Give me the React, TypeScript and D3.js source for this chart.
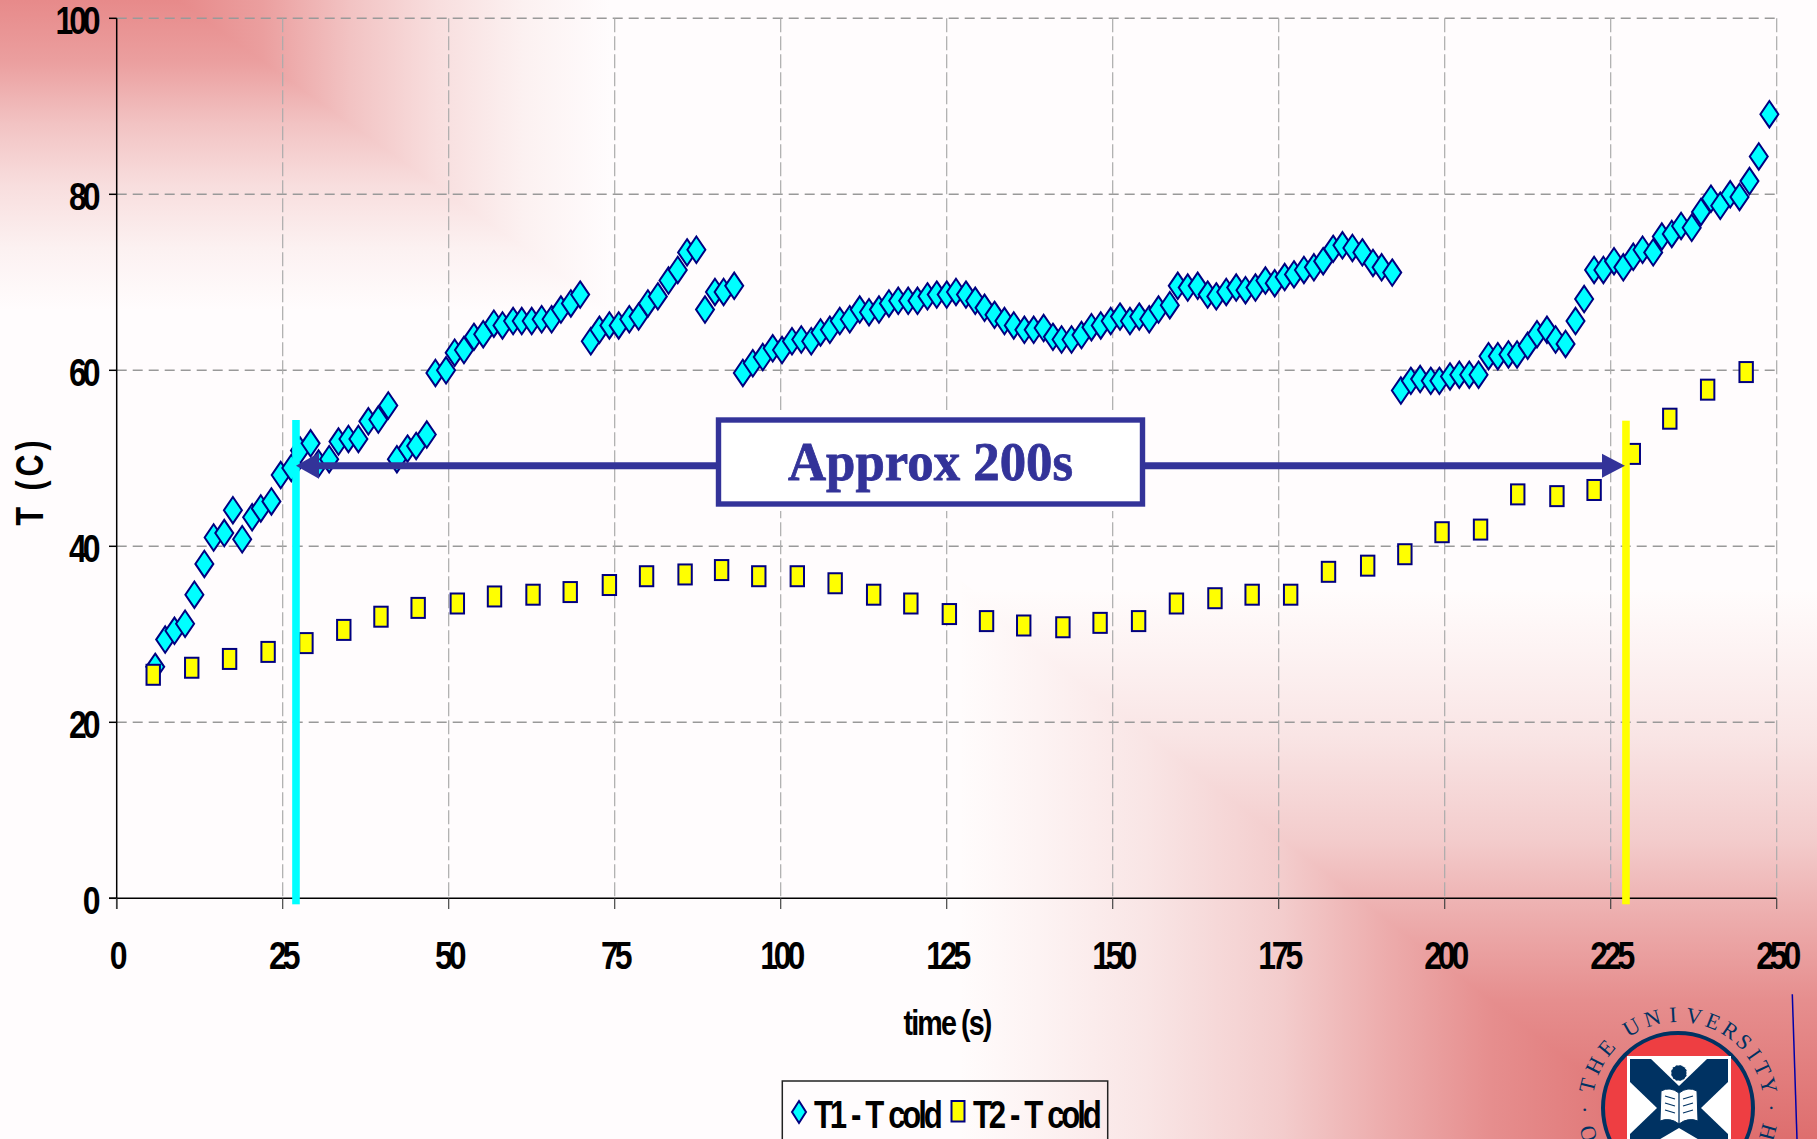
import React from "react";
import * as d3 from "d3";

const t1Time = [5.8,7.3,8.7,10.3,11.7,13.2,14.6,16.2,17.5,18.9,20.4,21.7,23.3,24.7,26.3,27.6,29.2,30.4,32.0,33.4,34.9,36.4,37.9,39.4,40.9,42.2,43.8,45.1,46.7,48.0,49.6,50.9,52.3,53.8,55.2,56.8,58.1,59.7,61.0,62.5,64.0,65.5,66.9,68.4,69.8,71.4,72.7,74.2,75.6,77.2,78.6,80.0,81.5,83.1,84.5,85.9,87.3,88.6,90.1,91.4,93.0,94.3,95.8,97.3,98.8,100.2,101.7,103.1,104.6,106.0,107.4,108.9,110.4,111.9,113.3,114.8,116.3,117.7,119.2,120.6,122.1,123.5,125.0,126.4,127.9,129.3,130.7,132.2,133.7,135.1,136.7,138.1,139.6,141.0,142.3,143.8,145.3,146.8,148.2,149.7,151.1,152.6,154.0,155.5,156.9,158.6,159.8,161.3,162.8,164.3,165.6,167.1,168.6,170.0,171.5,173.0,174.4,175.9,177.3,178.8,180.3,181.7,183.2,184.6,186.1,187.6,189.2,190.5,192.1,193.4,194.9,196.3,197.9,199.2,200.8,202.2,203.7,205.1,206.6,208.0,209.6,210.9,212.5,213.9,215.4,216.7,218.2,219.7,221.0,222.5,223.9,225.5,226.9,228.4,229.8,231.4,232.7,234.2,235.6,237.2,238.6,240.1,241.5,243.0,244.4,245.9,247.3,248.9];
const t1Values = [26.3,29.4,30.4,31.2,34.5,38.0,41.0,41.5,44.1,40.8,43.3,44.3,45.1,48.1,48.9,50.9,51.7,49.4,49.9,51.9,52.2,52.2,54.2,54.4,56.0,49.9,51.1,51.4,52.7,59.7,60.0,62.0,62.3,63.8,64.1,65.3,65.1,65.6,65.6,65.6,65.8,65.8,66.9,67.6,68.6,63.3,64.6,65.1,65.1,65.8,66.1,67.6,68.4,70.2,71.4,73.4,73.7,66.9,68.9,68.9,69.6,59.7,60.8,61.5,62.5,62.3,63.3,63.5,63.3,64.3,64.6,65.6,65.8,66.9,66.6,66.9,67.6,67.9,67.9,67.9,68.4,68.6,68.6,68.9,68.6,67.9,67.1,66.3,65.6,65.1,64.6,64.6,64.8,63.8,63.5,63.5,64.0,64.9,65.1,65.6,66.1,65.6,66.1,65.8,66.9,67.4,69.6,69.4,69.6,68.6,68.4,68.9,69.4,69.1,69.4,70.2,69.9,70.6,70.9,71.4,71.7,72.4,73.8,74.2,73.9,73.4,72.2,71.7,71.1,57.7,58.8,59.0,58.8,58.8,59.3,59.5,59.5,59.5,61.6,61.6,61.8,61.8,62.8,64.1,64.6,63.5,63.0,65.6,68.1,71.4,71.4,72.4,71.7,72.9,73.7,73.4,75.2,75.5,76.4,76.2,78.0,79.5,78.7,80.0,79.7,81.5,84.3,89.1];
const t2Time = [5.5,11.3,17.0,22.8,28.5,34.2,39.8,45.4,51.3,56.9,62.7,68.3,74.2,79.8,85.6,91.1,96.7,102.5,108.2,114.0,119.6,125.4,131.0,136.6,142.5,148.1,153.9,159.6,165.4,171.0,176.8,182.5,188.4,194.0,199.6,205.4,211.0,216.9,222.5,228.4,233.9,239.6,245.4];
const t2Values = [25.4,26.2,27.2,28.0,29.0,30.5,32.0,33.0,33.5,34.3,34.5,34.8,35.6,36.6,36.8,37.3,36.6,36.6,35.8,34.5,33.5,32.3,31.5,31.0,30.8,31.3,31.5,33.5,34.1,34.5,34.5,37.1,37.8,39.1,41.6,41.9,45.9,45.7,46.4,50.5,54.5,57.8,59.8];
const xTicks = [0,25,50,75,100,125,150,175,200,225,250];
const yTicks = [0,20,40,60,80,100];
const startTime = 27;
const endTime = 227.3;
const spanLabel = "Approx 200s";
const xTitle = "time (s)";
const yTitle = "T (C)";
const series1Name = "T1 - T cold";
const series2Name = "T2 - T cold";
const sealChars = ["O","·","T","H","E","U","N","I","V","E","R","S","I","T","Y","·","H"];
const sealAngles = [-106,-91,-76,-63,-50,-30,-16,-3,10,22,34,45,55,65,76,90,105];

const NAVY = "#000080";
const BLUE = "#333399";
const SEAL = "#003262";
const x = d3.scaleLinear().domain([0, 250]).range([116.7, 1776.7]);
const y = d3.scaleLinear().domain([0, 100]).range([898.3, 18.3]);

const diamond = (w: number, h: number) => `M0,${-h}L${w},0L0,${h}L${-w},0Z`;

function Squeezed({ px, py, size, ls, sx = 0.82, anchor = "start", ws = 0, children }: any) {
  return (
    <text
      transform={`translate(${px},${py}) scale(${sx},1)`}
      fontFamily="'Liberation Sans', Arial, sans-serif"
      fontWeight={700}
      fontSize={size}
      letterSpacing={ls}
      wordSpacing={ws}
      textAnchor={anchor}
      fill="#000"
    >
      {children}
    </text>
  );
}

function Seal() {
  const cx = 1678, cy = 1108;
  return (
    <g>
      {sealChars.map((c, i) => (
        <text key={i} transform={`translate(${cx},${cy}) rotate(${sealAngles[i]}) translate(0,-86)`} textAnchor="middle"
          fontFamily="'Liberation Serif', serif" fontSize={22} fill={SEAL}>{c}</text>
      ))}
      <circle cx={cx} cy={cy} r={75} fill="#EE3E42" stroke={SEAL} strokeWidth={4} />
      <rect x={1627} y={1056} width={104} height={120} fill="#fff" />
      <rect x={1630} y={1059} width={98} height={120} fill={SEAL} />
      <path d="M1651,1059L1707,1059L1679,1086Z" fill="#fff" />
      <path d="M1630,1082L1657,1108L1630,1134Z" fill="#fff" />
      <path d="M1728,1082L1701,1108L1728,1134Z" fill="#fff" />
      <path d="M1679,1128L1650,1145L1708,1145Z" fill="#fff" />
      <circle cx={1679} cy={1073} r={8} fill={SEAL} stroke="#fff" strokeWidth={1} strokeDasharray="2 2" />
      <path d="M1664,1059L1675,1066M1694,1059L1683,1066M1679,1059L1679,1065" stroke="#fff" strokeWidth={1.5} />
      <path d="M1661,1091Q1670,1086 1679,1093Q1688,1086 1697,1091L1698,1121Q1688,1117 1679,1124Q1670,1117 1660,1121Z" fill="#fff" stroke={SEAL} strokeWidth={1} />
      <path d="M1679,1093L1679,1124M1665,1096L1675,1099M1665,1103L1675,1106M1665,1110L1675,1113M1693,1096L1683,1099M1693,1103L1683,1106M1693,1110L1683,1113" stroke={SEAL} strokeWidth={1.3} fill="none" />
    </g>
  );
}

export default function App() {
  const tlStops: [number, string][] = [[0,"#E78A8A"],[0.2,"#EB9F9F"],[0.4,"#F2C3C3"],[0.6,"#F8DEDE"],[0.8,"#FCF1F1"],[1,"#FFFCFD"]];
  const brStops: [number, string][] = [[0,"#FFFCFC"],[0.11,"#FDF3F3"],[0.264,"#F9E5E5"],[0.455,"#F3CCCC"],[0.59,"#EDAEAE"],[0.747,"#E68E8E"],[1,"#DE6E6E"]];
  const stops = (s: [number, string][]) => s.map(([o, c]) => <stop key={o} offset={o} stopColor={c} />);
  const arrowY = 465.7;
  const x0 = x(startTime), x1 = x(endTime);
  return (
    <svg width={1817} height={1139} style={{ position: "fixed", left: 0, top: 0, display: "block" }}>
      <defs>
        <linearGradient id="tlV" gradientUnits="userSpaceOnUse" x1={0} y1={0} x2={0} y2={310}>{stops(tlStops)}</linearGradient>
        <linearGradient id="tlH" gradientUnits="userSpaceOnUse" x1={177} y1={0} x2={610} y2={0}>{stops(tlStops)}</linearGradient>
        <linearGradient id="brV" gradientUnits="userSpaceOnUse" x1={0} y1={590} x2={0} y2={1139}>{stops(brStops)}</linearGradient>
        <linearGradient id="brH" gradientUnits="userSpaceOnUse" x1={960} y1={0} x2={1670} y2={0}>{stops(brStops)}</linearGradient>
      </defs>
      <rect width={1817} height={1139} fill="#FFFCFD" />
      <path d="M170,0L610,0L610,310L600,310Z" fill="url(#tlH)" />
      <path d="M0,0L177,0L610,310L0,310Z" fill="url(#tlV)" shapeRendering="crispEdges" />
      <path d="M960,580L960,1139L1680,1139Z" fill="url(#brH)" />
      <path d="M960,590L1817,590L1817,1139L1670,1139Z" fill="url(#brV)" shapeRendering="crispEdges" />

      {yTicks.filter(t => t > 0).map(t => (
        <line key={t} x1={x(0)} x2={x(250)} y1={y(t)} y2={y(t)} stroke="#999" strokeWidth={1.4} strokeDasharray="10 6" />
      ))}
      {xTicks.filter(t => t > 0).map(t => (
        <line key={t} x1={x(t)} x2={x(t)} y1={y(100)} y2={y(0)} stroke="#aaa" strokeWidth={1.2} strokeDasharray="14 4" />
      ))}
      <line x1={x(0)} x2={x(0)} y1={y(100)} y2={909} stroke="#000" strokeWidth={1.5} />
      <line x1={109} x2={x(250)} y1={y(0)} y2={y(0)} stroke="#000" strokeWidth={1.5} />
      {yTicks.map(t => <line key={t} x1={109} x2={x(0)} y1={y(t)} y2={y(t)} stroke="#000" strokeWidth={1.5} />)}
      {xTicks.map(t => <line key={t} x1={x(t)} x2={x(t)} y1={y(0)} y2={909} stroke="#444" strokeWidth={1.2} />)}

      {yTicks.map(t => (
        <Squeezed key={t} px={96.5} py={y(t) + 16} size={39} ls={-5} anchor="end">{t}</Squeezed>
      ))}
      {xTicks.map(t => (
        <Squeezed key={t} px={x(t)} py={969} size={39} ls={-5} anchor="middle">{t}</Squeezed>
      ))}
      <Squeezed px={947} py={1035} size={35} ls={-2.3} anchor="middle">{xTitle}</Squeezed>
      <text transform="translate(43,481) rotate(-90) scale(0.8,1)" textAnchor="middle" fontFamily="'Liberation Sans', sans-serif" fontWeight={700} fontSize={38}
        letterSpacing={5}>{yTitle}</text>

      <rect x={782.3} y={1081} width={325.4} height={80} fill="none" stroke="#222" strokeWidth={1.5} />
      <path d={diamond(7, 11)} transform="translate(799,1112)" fill="#00FFFF" stroke={NAVY} strokeWidth={2} />
      <Squeezed px={814} py={1127.5} size={38} ls={-3.9} ws={2}>{series1Name}</Squeezed>
      <rect x={951.5} y={1101} width={13} height={20.5} fill="#FFFF00" stroke={NAVY} strokeWidth={2} />
      <Squeezed px={973} py={1127.5} size={38} ls={-3.9} ws={2}>{series2Name}</Squeezed>

      {t1Time.map((t, i) => (
        <path key={i} d={diamond(9, 13.2)} transform={`translate(${x(t)},${y(t1Values[i])})`} fill="#00FFFF" stroke={NAVY} strokeWidth={2} />
      ))}
      {t2Time.map((t, i) => (
        <rect key={i} x={x(t) - 6.7} y={y(t2Values[i]) - 10} width={13.4} height={20} fill="#FFFF00" stroke={NAVY} strokeWidth={2} />
      ))}

      <rect x={x0 - 3.8} y={420} width={7.6} height={484.3} fill="#00FFFF" />
      <rect x={x1 - 3.8} y={420.7} width={7.6} height={483.6} fill="#FFFF00" />

      <line x1={x0 + 20} x2={x1 - 20} y1={arrowY} y2={arrowY} stroke={BLUE} strokeWidth={7} />
      <path d={`M${x0},${arrowY}L${x0 + 23},${arrowY - 13}L${x0 + 23},${arrowY + 13}Z`} fill={BLUE} />
      <path d={`M${x1 - 1},${arrowY}L${x1 - 24},${arrowY - 12}L${x1 - 24},${arrowY + 12}Z`} fill={BLUE} />

      <rect x={716} y={410} width={429} height={101} fill="#FFFCFD" />
      <rect x={718.5} y={420} width={424} height={84} fill="#fff" stroke={BLUE} strokeWidth={5.4} />
      <text x={788} y={480} fontFamily="'Liberation Serif', serif" fontWeight={700} fontSize={54} fill={BLUE} stroke={BLUE} strokeWidth={0.8}
        textLength={285} lengthAdjust="spacingAndGlyphs">{spanLabel}</text>

      <Seal />
      <line x1={1792.3} y1={994.3} x2={1797} y2={1139} stroke="#0000AA" strokeWidth={1.5} />
    </svg>
  );
}
